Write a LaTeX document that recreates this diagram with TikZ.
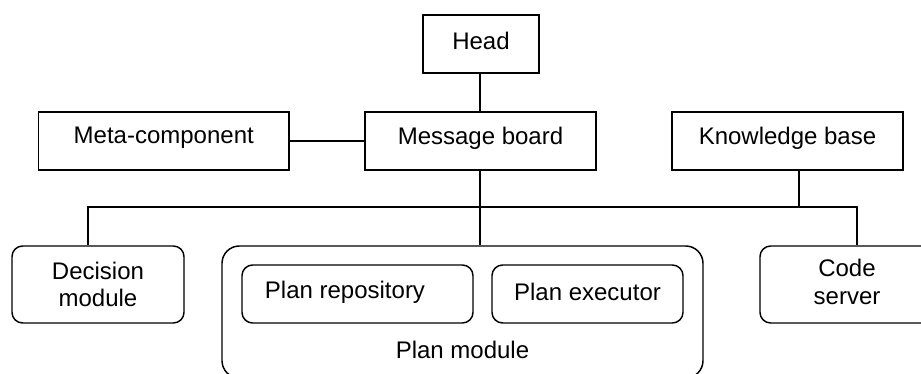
\documentclass[tikz,border=0pt]{standalone}
\usepackage{fontspec}
\setmainfont{Liberation Sans}
\begin{document}
\begin{tikzpicture}[x=0.75pt,y=-0.75pt,
  every node/.style={font=\fontsize{18}{20.5}\selectfont, inner sep=0pt, align=center},
  sqbox/.style={draw, line width=1.1pt, rectangle},
  rbox/.style={draw, line width=1.1pt, rectangle, rounded corners=8pt},
  bigbox/.style={draw, line width=1.1pt, rectangle, rounded corners=13pt},
  wire/.style={line width=1.1pt}]
\useasboundingbox (0,0) rectangle (921,374);
\clip (0,0) rectangle (921,374);
\fill[white] (0,0) rectangle (921,374);
\node[sqbox, minimum width=116*0.75pt, minimum height=58*0.75pt] (head) at (481,44) {};
\node (headlabel) at (481,41) {Head};
\node[sqbox, minimum width=250.5*0.75pt, minimum height=58*0.75pt] (meta) at (163.75,141) {};
\node (metalabel) at (163.75,138) {Meta-component};
\node[sqbox, minimum width=231*0.75pt, minimum height=58*0.75pt] (mb) at (480.5,141) {};
\node (mblabel) at (480.5,138) {Message board};
\node[sqbox, minimum width=231*0.75pt, minimum height=58*0.75pt] (kb) at (787.5,141) {};
\node (kblabel) at (787.5,138) {Knowledge base};
\node[rbox, minimum width=172*0.75pt, minimum height=77*0.75pt] (dec) at (98,284.5) {Decision\\module};
\node[bigbox, minimum width=481*0.75pt, minimum height=132*0.75pt] (pm) at (462.5,312) {};
\node (pmlabel) at (462.5,350) {Plan module};
\node[rbox, minimum width=231*0.75pt, minimum height=58*0.75pt] (repo) at (357.5,294) {};
\node (repolabel) at (345,292) {Plan repository};
\node[rbox, minimum width=191*0.75pt, minimum height=58*0.75pt] (exec) at (587.5,294) {};
\node (execlabel) at (587.5,292) {Plan executor};
\node[rbox, minimum width=194*0.75pt, minimum height=77*0.75pt] (code) at (857,284.5) {};
\node (codelabel) at (847,282) {Code\\server};
\coordinate (busL) at (88,207);
\coordinate (busR) at (857,207);
\coordinate (busK) at (799,207);
\coordinate (busM) at (480,207);
\draw[wire] (head.south -| busM) -- (mb.north -| busM);
\draw[wire] (meta.east) -- (mb.west);
\draw[wire] (mb.south -| busM) -- (pm.north -| busM);
\draw[wire] (busL |- dec.north) -- (busL) -- (busR) -- (code.north);
\draw[wire] (kb.south -| busK) -- (busK);
\end{tikzpicture}
\end{document}
